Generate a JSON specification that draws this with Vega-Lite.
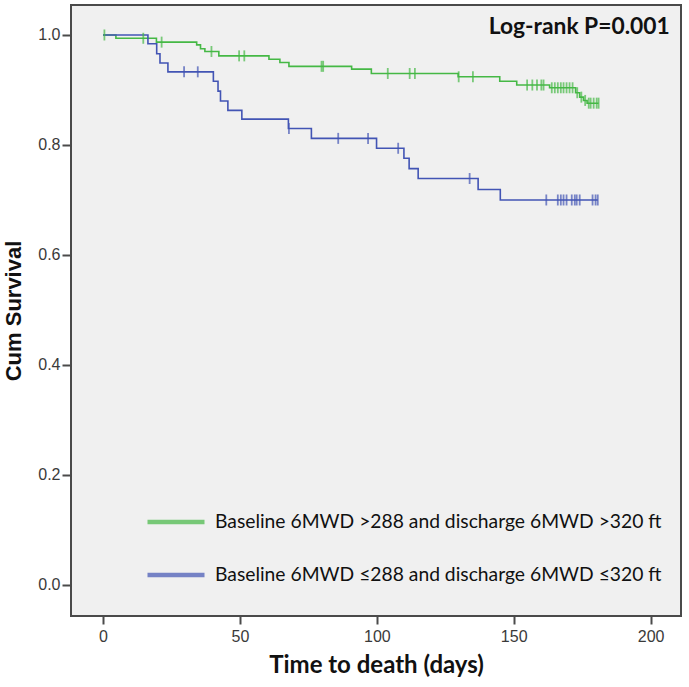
{
  "$schema": "https://vega.github.io/schema/vega-lite/v6.json",
  "autosize": "none",
  "width": 610,
  "height": 611,
  "padding": {"left": 71, "top": 5, "right": 8, "bottom": 71},
  "background": "white",
  "config": {
    "view": {"fill": "#f0f0f0", "stroke": "#4a4a4a", "strokeWidth": 2},
    "axis": {"grid": false, "domain": false, "tickColor": "#4a4a4a", "tickWidth": 2, "labelColor": "#3a3a3a", "labelFont": "Liberation Sans", "labelFontSize": 16}
  },
  "datasets": {
    "km": [
      {"group": "Baseline 6MWD >288 and discharge 6MWD >320 ft", "day": 0, "surv": 1.0, "censor": 0},
      {"group": "Baseline 6MWD >288 and discharge 6MWD >320 ft", "day": 0.5, "surv": 1.0, "censor": 1},
      {"group": "Baseline 6MWD >288 and discharge 6MWD >320 ft", "day": 4.7, "surv": 0.994, "censor": 0},
      {"group": "Baseline 6MWD >288 and discharge 6MWD >320 ft", "day": 14.7, "surv": 0.994, "censor": 1},
      {"group": "Baseline 6MWD >288 and discharge 6MWD >320 ft", "day": 19.5, "surv": 0.987, "censor": 0},
      {"group": "Baseline 6MWD >288 and discharge 6MWD >320 ft", "day": 21.4, "surv": 0.987, "censor": 1},
      {"group": "Baseline 6MWD >288 and discharge 6MWD >320 ft", "day": 34.2, "surv": 0.982, "censor": 0},
      {"group": "Baseline 6MWD >288 and discharge 6MWD >320 ft", "day": 35.6, "surv": 0.975, "censor": 0},
      {"group": "Baseline 6MWD >288 and discharge 6MWD >320 ft", "day": 37.2, "surv": 0.970, "censor": 0},
      {"group": "Baseline 6MWD >288 and discharge 6MWD >320 ft", "day": 39.6, "surv": 0.970, "censor": 1},
      {"group": "Baseline 6MWD >288 and discharge 6MWD >320 ft", "day": 42.3, "surv": 0.962, "censor": 0},
      {"group": "Baseline 6MWD >288 and discharge 6MWD >320 ft", "day": 49.7, "surv": 0.962, "censor": 1},
      {"group": "Baseline 6MWD >288 and discharge 6MWD >320 ft", "day": 51.6, "surv": 0.962, "censor": 1},
      {"group": "Baseline 6MWD >288 and discharge 6MWD >320 ft", "day": 60.6, "surv": 0.956, "censor": 0},
      {"group": "Baseline 6MWD >288 and discharge 6MWD >320 ft", "day": 64.6, "surv": 0.950, "censor": 0},
      {"group": "Baseline 6MWD >288 and discharge 6MWD >320 ft", "day": 67.9, "surv": 0.943, "censor": 0},
      {"group": "Baseline 6MWD >288 and discharge 6MWD >320 ft", "day": 79.8, "surv": 0.943, "censor": 1},
      {"group": "Baseline 6MWD >288 and discharge 6MWD >320 ft", "day": 80.4, "surv": 0.943, "censor": 1},
      {"group": "Baseline 6MWD >288 and discharge 6MWD >320 ft", "day": 90.8, "surv": 0.938, "censor": 0},
      {"group": "Baseline 6MWD >288 and discharge 6MWD >320 ft", "day": 98.0, "surv": 0.930, "censor": 0},
      {"group": "Baseline 6MWD >288 and discharge 6MWD >320 ft", "day": 104.0, "surv": 0.930, "censor": 1},
      {"group": "Baseline 6MWD >288 and discharge 6MWD >320 ft", "day": 112.0, "surv": 0.930, "censor": 1},
      {"group": "Baseline 6MWD >288 and discharge 6MWD >320 ft", "day": 113.9, "surv": 0.930, "censor": 1},
      {"group": "Baseline 6MWD >288 and discharge 6MWD >320 ft", "day": 129.7, "surv": 0.924, "censor": 0},
      {"group": "Baseline 6MWD >288 and discharge 6MWD >320 ft", "day": 129.9, "surv": 0.924, "censor": 1},
      {"group": "Baseline 6MWD >288 and discharge 6MWD >320 ft", "day": 135.1, "surv": 0.924, "censor": 1},
      {"group": "Baseline 6MWD >288 and discharge 6MWD >320 ft", "day": 144.9, "surv": 0.916, "censor": 0},
      {"group": "Baseline 6MWD >288 and discharge 6MWD >320 ft", "day": 151.1, "surv": 0.909, "censor": 0},
      {"group": "Baseline 6MWD >288 and discharge 6MWD >320 ft", "day": 154.9, "surv": 0.909, "censor": 1},
      {"group": "Baseline 6MWD >288 and discharge 6MWD >320 ft", "day": 156.8, "surv": 0.909, "censor": 1},
      {"group": "Baseline 6MWD >288 and discharge 6MWD >320 ft", "day": 158.5, "surv": 0.909, "censor": 1},
      {"group": "Baseline 6MWD >288 and discharge 6MWD >320 ft", "day": 160.1, "surv": 0.909, "censor": 1},
      {"group": "Baseline 6MWD >288 and discharge 6MWD >320 ft", "day": 160.9, "surv": 0.909, "censor": 1},
      {"group": "Baseline 6MWD >288 and discharge 6MWD >320 ft", "day": 163.1, "surv": 0.904, "censor": 0},
      {"group": "Baseline 6MWD >288 and discharge 6MWD >320 ft", "day": 163.9, "surv": 0.904, "censor": 1},
      {"group": "Baseline 6MWD >288 and discharge 6MWD >320 ft", "day": 165.0, "surv": 0.904, "censor": 1},
      {"group": "Baseline 6MWD >288 and discharge 6MWD >320 ft", "day": 166.1, "surv": 0.904, "censor": 1},
      {"group": "Baseline 6MWD >288 and discharge 6MWD >320 ft", "day": 167.2, "surv": 0.904, "censor": 1},
      {"group": "Baseline 6MWD >288 and discharge 6MWD >320 ft", "day": 168.2, "surv": 0.904, "censor": 1},
      {"group": "Baseline 6MWD >288 and discharge 6MWD >320 ft", "day": 169.3, "surv": 0.904, "censor": 1},
      {"group": "Baseline 6MWD >288 and discharge 6MWD >320 ft", "day": 170.4, "surv": 0.904, "censor": 1},
      {"group": "Baseline 6MWD >288 and discharge 6MWD >320 ft", "day": 171.5, "surv": 0.904, "censor": 1},
      {"group": "Baseline 6MWD >288 and discharge 6MWD >320 ft", "day": 172.6, "surv": 0.895, "censor": 0},
      {"group": "Baseline 6MWD >288 and discharge 6MWD >320 ft", "day": 173.2, "surv": 0.895, "censor": 1},
      {"group": "Baseline 6MWD >288 and discharge 6MWD >320 ft", "day": 174.1, "surv": 0.887, "censor": 0},
      {"group": "Baseline 6MWD >288 and discharge 6MWD >320 ft", "day": 174.7, "surv": 0.887, "censor": 1},
      {"group": "Baseline 6MWD >288 and discharge 6MWD >320 ft", "day": 175.5, "surv": 0.881, "censor": 0},
      {"group": "Baseline 6MWD >288 and discharge 6MWD >320 ft", "day": 176.1, "surv": 0.881, "censor": 1},
      {"group": "Baseline 6MWD >288 and discharge 6MWD >320 ft", "day": 176.8, "surv": 0.876, "censor": 0},
      {"group": "Baseline 6MWD >288 and discharge 6MWD >320 ft", "day": 177.4, "surv": 0.876, "censor": 1},
      {"group": "Baseline 6MWD >288 and discharge 6MWD >320 ft", "day": 178.1, "surv": 0.876, "censor": 1},
      {"group": "Baseline 6MWD >288 and discharge 6MWD >320 ft", "day": 179.2, "surv": 0.876, "censor": 1},
      {"group": "Baseline 6MWD >288 and discharge 6MWD >320 ft", "day": 180.3, "surv": 0.876, "censor": 1},
      {"group": "Baseline 6MWD >288 and discharge 6MWD >320 ft", "day": 181.0, "surv": 0.876, "censor": 1},
      {"group": "Baseline 6MWD ≤288 and discharge 6MWD ≤320 ft", "day": 0, "surv": 1.0, "censor": 0},
      {"group": "Baseline 6MWD ≤288 and discharge 6MWD ≤320 ft", "day": 16.4, "surv": 0.984, "censor": 0},
      {"group": "Baseline 6MWD ≤288 and discharge 6MWD ≤320 ft", "day": 19.6, "surv": 0.966, "censor": 0},
      {"group": "Baseline 6MWD ≤288 and discharge 6MWD ≤320 ft", "day": 20.8, "surv": 0.949, "censor": 0},
      {"group": "Baseline 6MWD ≤288 and discharge 6MWD ≤320 ft", "day": 23.7, "surv": 0.933, "censor": 0},
      {"group": "Baseline 6MWD ≤288 and discharge 6MWD ≤320 ft", "day": 29.6, "surv": 0.933, "censor": 1},
      {"group": "Baseline 6MWD ≤288 and discharge 6MWD ≤320 ft", "day": 34.6, "surv": 0.933, "censor": 1},
      {"group": "Baseline 6MWD ≤288 and discharge 6MWD ≤320 ft", "day": 40.3, "surv": 0.916, "censor": 0},
      {"group": "Baseline 6MWD ≤288 and discharge 6MWD ≤320 ft", "day": 42.0, "surv": 0.898, "censor": 0},
      {"group": "Baseline 6MWD ≤288 and discharge 6MWD ≤320 ft", "day": 42.9, "surv": 0.880, "censor": 0},
      {"group": "Baseline 6MWD ≤288 and discharge 6MWD ≤320 ft", "day": 45.6, "surv": 0.863, "censor": 0},
      {"group": "Baseline 6MWD ≤288 and discharge 6MWD ≤320 ft", "day": 50.7, "surv": 0.847, "censor": 0},
      {"group": "Baseline 6MWD ≤288 and discharge 6MWD ≤320 ft", "day": 67.7, "surv": 0.830, "censor": 0},
      {"group": "Baseline 6MWD ≤288 and discharge 6MWD ≤320 ft", "day": 67.9, "surv": 0.830, "censor": 1},
      {"group": "Baseline 6MWD ≤288 and discharge 6MWD ≤320 ft", "day": 76.1, "surv": 0.812, "censor": 0},
      {"group": "Baseline 6MWD ≤288 and discharge 6MWD ≤320 ft", "day": 85.9, "surv": 0.812, "censor": 1},
      {"group": "Baseline 6MWD ≤288 and discharge 6MWD ≤320 ft", "day": 96.8, "surv": 0.812, "censor": 1},
      {"group": "Baseline 6MWD ≤288 and discharge 6MWD ≤320 ft", "day": 99.9, "surv": 0.794, "censor": 0},
      {"group": "Baseline 6MWD ≤288 and discharge 6MWD ≤320 ft", "day": 107.8, "surv": 0.794, "censor": 1},
      {"group": "Baseline 6MWD ≤288 and discharge 6MWD ≤320 ft", "day": 109.9, "surv": 0.776, "censor": 0},
      {"group": "Baseline 6MWD ≤288 and discharge 6MWD ≤320 ft", "day": 111.8, "surv": 0.757, "censor": 0},
      {"group": "Baseline 6MWD ≤288 and discharge 6MWD ≤320 ft", "day": 115.1, "surv": 0.739, "censor": 0},
      {"group": "Baseline 6MWD ≤288 and discharge 6MWD ≤320 ft", "day": 133.9, "surv": 0.739, "censor": 1},
      {"group": "Baseline 6MWD ≤288 and discharge 6MWD ≤320 ft", "day": 137.0, "surv": 0.719, "censor": 0},
      {"group": "Baseline 6MWD ≤288 and discharge 6MWD ≤320 ft", "day": 145.1, "surv": 0.700, "censor": 0},
      {"group": "Baseline 6MWD ≤288 and discharge 6MWD ≤320 ft", "day": 161.9, "surv": 0.700, "censor": 1},
      {"group": "Baseline 6MWD ≤288 and discharge 6MWD ≤320 ft", "day": 166.1, "surv": 0.700, "censor": 1},
      {"group": "Baseline 6MWD ≤288 and discharge 6MWD ≤320 ft", "day": 167.2, "surv": 0.700, "censor": 1},
      {"group": "Baseline 6MWD ≤288 and discharge 6MWD ≤320 ft", "day": 168.2, "surv": 0.700, "censor": 1},
      {"group": "Baseline 6MWD ≤288 and discharge 6MWD ≤320 ft", "day": 169.3, "surv": 0.700, "censor": 1},
      {"group": "Baseline 6MWD ≤288 and discharge 6MWD ≤320 ft", "day": 171.2, "surv": 0.700, "censor": 1},
      {"group": "Baseline 6MWD ≤288 and discharge 6MWD ≤320 ft", "day": 172.3, "surv": 0.700, "censor": 1},
      {"group": "Baseline 6MWD ≤288 and discharge 6MWD ≤320 ft", "day": 173.0, "surv": 0.700, "censor": 1},
      {"group": "Baseline 6MWD ≤288 and discharge 6MWD ≤320 ft", "day": 174.1, "surv": 0.700, "censor": 1},
      {"group": "Baseline 6MWD ≤288 and discharge 6MWD ≤320 ft", "day": 178.8, "surv": 0.700, "censor": 1},
      {"group": "Baseline 6MWD ≤288 and discharge 6MWD ≤320 ft", "day": 179.9, "surv": 0.700, "censor": 1},
      {"group": "Baseline 6MWD ≤288 and discharge 6MWD ≤320 ft", "day": 180.7, "surv": 0.700, "censor": 1}
    ],
    "note": [{"label": "Log-rank P=0.001", "day": 207, "surv": 1.014}]
  },
  "layer": [
    {
      "data": {"name": "km"},
      "mark": {"type": "line", "interpolate": "step-after", "strokeWidth": 1.6},
      "encoding": {
        "x": {"field": "day", "type": "quantitative", "scale": {"domain": [-11.7, 211.1], "nice": false, "zero": false},
          "axis": {"values": [0, 50, 100, 150, 200], "title": "Time to death (days)", "tickSize": 8, "labelPadding": 4, "titleFont": "Lato", "titleFontWeight": "bold", "titleFontSize": 24, "titleColor": "#111", "titlePadding": 9}},
        "y": {"field": "surv", "type": "quantitative", "scale": {"domain": [-0.0564, 1.0545], "nice": false, "zero": false},
          "axis": {"values": [0, 0.2, 0.4, 0.6, 0.8, 1.0], "format": ".1f", "title": "Cum Survival", "tickSize": 9, "labelPadding": 2, "titleFont": "Liberation Sans", "titleFontWeight": "bold", "titleFontSize": 22, "titleColor": "#111", "titlePadding": 12}},
        "color": {"field": "group", "type": "nominal",
          "scale": {"domain": ["Baseline 6MWD >288 and discharge 6MWD >320 ft", "Baseline 6MWD ≤288 and discharge 6MWD ≤320 ft"], "range": ["#45b845", "#4254b4"]},
          "legend": {"title": null, "orient": "none", "legendX": 74, "legendY": 507, "padding": 0, "symbolType": "stroke", "symbolSize": 3249, "symbolStrokeWidth": 4.5, "clipHeight": 20, "rowPadding": 32, "labelOffset": 8, "labelFont": "Lato", "labelFontSize": 19.3, "labelColor": "#111", "labelLimit": 600}
        },
        "order": {"field": "day", "type": "quantitative"}
      }
    },
    {
      "data": {"name": "km"},
      "transform": [{"filter": "datum.censor == 1"}],
      "mark": {"type": "tick", "orient": "vertical", "size": 11, "thickness": 1.8},
      "encoding": {
        "x": {"field": "day", "type": "quantitative"},
        "y": {"field": "surv", "type": "quantitative"},
        "color": {"field": "group", "type": "nominal"}
      }
    },
    {
      "data": {"name": "note"},
      "mark": {"type": "text", "align": "right", "baseline": "middle", "font": "Lato", "fontWeight": "bold", "fontSize": 22.8, "color": "#111"},
      "encoding": {
        "x": {"field": "day", "type": "quantitative"},
        "y": {"field": "surv", "type": "quantitative"},
        "text": {"field": "label"}
      }
    }
  ]
}
